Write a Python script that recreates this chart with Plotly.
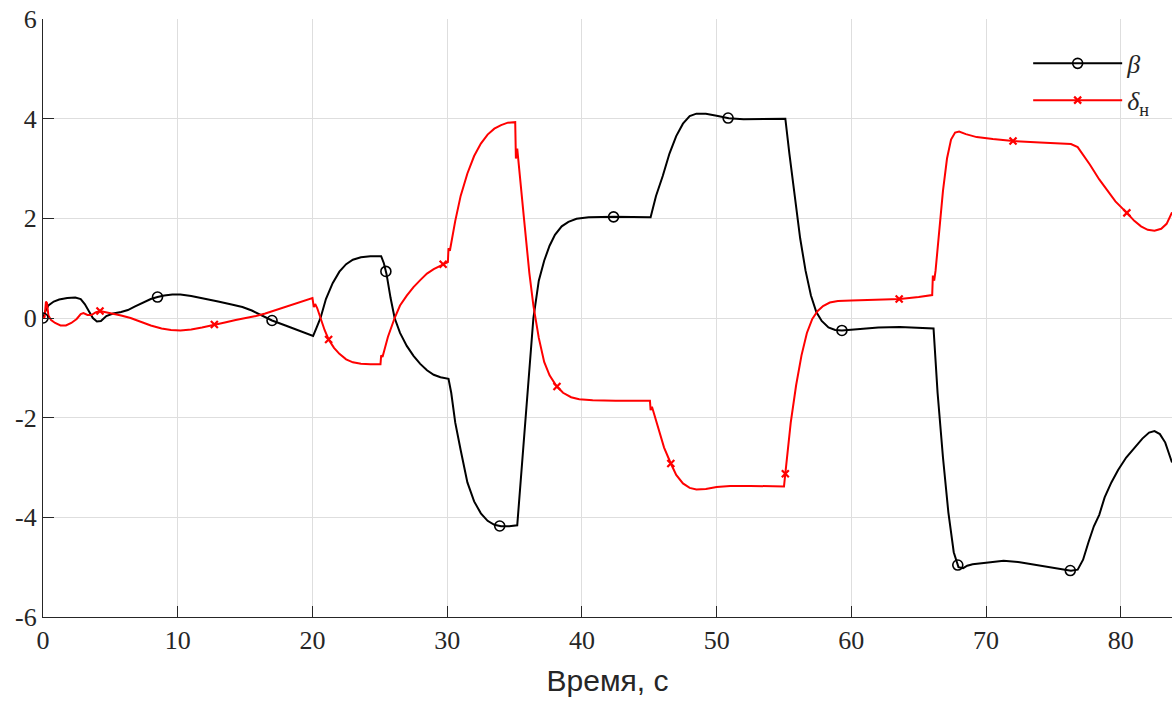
import numpy as np
import plotly.graph_objects as go

# beta (black) series: time, value
beta_t = [0.0, 0.2, 0.4, 0.8, 1.2, 1.8, 2.4, 2.8, 3.1, 3.4, 3.7, 4.0, 4.3, 4.7, 5.2, 5.8, 6.3, 6.8, 7.4, 8.0,
          8.5, 9.0, 9.6, 10.2, 11.0, 12.0, 13.0, 14.0, 14.8, 15.5, 16.2, 17.0, 18.0, 19.0, 20.05, 20.3, 20.6,
          21.0, 21.5, 22.0, 22.5, 23.0, 23.6, 24.3, 25.1, 25.3, 25.5, 25.8, 26.1, 26.5, 27.0, 27.5, 28.0, 28.5,
          29.0, 29.5, 30.1, 30.3, 30.6, 31.0, 31.5, 32.0, 32.5, 33.0, 33.5, 34.0, 34.6, 35.2, 35.6, 36.0, 36.4,
          36.8, 37.2, 37.6, 38.0, 38.5, 39.0, 39.6, 40.5, 42.4, 45.1, 45.5, 46.0, 46.5, 47.0, 47.5, 48.0, 48.5,
          49.2, 50.0, 50.9, 52.0, 53.5, 55.1, 55.4, 55.8, 56.2, 56.6, 57.0, 57.4, 57.8, 58.3, 58.8, 59.3, 60.5,
          62.0, 63.6, 65.0, 66.1, 66.4, 66.8, 67.2, 67.6, 67.95, 68.3, 68.6, 69.0, 70.0, 71.3, 72.5, 74.0, 75.2,
          76.3, 76.8, 77.2, 77.6, 78.0, 78.4, 78.8, 79.3, 79.8, 80.4, 81.0, 81.6, 82.1, 82.5, 82.9, 83.3, 83.8]
beta_v = [0.0, 0.15, 0.25, 0.33, 0.37, 0.40, 0.41, 0.38, 0.28, 0.13, 0.0, -0.07, -0.06, 0.04, 0.09, 0.12, 0.16,
          0.23, 0.31, 0.38, 0.42, 0.45, 0.47, 0.47, 0.44, 0.39, 0.33, 0.27, 0.22, 0.15, 0.05, -0.05, -0.15, -0.25,
          -0.36, -0.20, 0.0, 0.38, 0.70, 0.93, 1.08, 1.17, 1.22, 1.24, 1.24, 1.10, 0.88, 0.40, 0.0, -0.30, -0.56,
          -0.76, -0.92, -1.05, -1.14, -1.19, -1.22, -1.5, -2.1, -2.65, -3.3, -3.68, -3.92, -4.07, -4.15, -4.18,
          -4.18, -4.16, -2.8, -1.3, 0.0, 0.75, 1.15, 1.45, 1.67, 1.84, 1.93, 1.99, 2.02, 2.03, 2.02, 2.45, 2.85,
          3.3, 3.65, 3.9, 4.05, 4.1, 4.1, 4.06, 4.01, 3.99, 3.99, 4.0, 3.3, 2.4, 1.6, 0.95, 0.45, 0.12, -0.06,
          -0.19, -0.24, -0.25, -0.22, -0.19, -0.18, -0.19, -0.21, -1.5, -2.8, -3.9, -4.7, -5.0, -5.02, -4.97,
          -4.94, -4.91, -4.87, -4.9, -4.97, -5.02, -5.07, -5.05, -4.85, -4.5, -4.18, -3.95, -3.6, -3.3, -3.05,
          -2.8, -2.6, -2.42, -2.3, -2.27, -2.33, -2.5, -2.9]

# delta_n (red) series: time, value
delta_t = [0.0, 0.12, 0.22, 0.3, 0.4, 0.6, 0.9, 1.3, 1.7, 2.1, 2.5, 2.8, 3.0, 3.3, 3.6, 3.9, 4.23, 4.6, 5.2, 5.8,
           6.5, 7.2, 8.0, 8.8, 9.5, 10.2, 11.0, 11.8, 12.7, 13.5, 14.3, 15.1, 15.8, 16.5, 17.3, 18.2, 19.0, 19.9,
           20.0, 20.1, 20.2, 20.35, 20.6, 20.9, 21.2, 21.6, 22.0, 22.5, 23.0, 23.6, 24.3, 25.05, 25.1, 25.2, 25.3,
           25.6, 26.1, 26.5, 27.0, 27.5, 28.0, 28.5, 29.0, 29.7, 30.05, 30.1, 30.2, 30.3, 30.6, 31.0, 31.5, 32.0,
           32.5, 33.0, 33.5, 34.0, 34.5, 35.05, 35.1, 35.2, 35.3, 35.7, 36.1, 36.4, 36.8, 37.2, 37.6, 38.1, 38.6,
           39.2, 39.8, 40.8, 42.5, 45.05, 45.1, 45.2, 45.3, 45.7, 46.1, 46.6, 47.0, 47.5, 48.0, 48.5, 49.2, 50.0,
           51.0, 52.5, 54.0, 55.0, 55.05, 55.15, 55.25, 55.5, 55.9, 56.3, 56.7, 57.1, 57.5, 57.9, 58.4, 59.0,
           60.0, 61.5, 63.6, 65.0, 66.0, 66.05, 66.15, 66.25, 66.5, 66.8, 67.1, 67.4, 67.7, 68.0, 68.5, 69.3,
           70.5, 72.0, 74.0, 76.3, 76.8, 77.2, 77.7, 78.4, 79.0, 79.6, 80.45, 81.0, 81.5, 82.0, 82.5, 83.0, 83.4,
           83.8]
delta_v = [0.0, 0.02, 0.33, 0.30, 0.05, -0.04, -0.10, -0.15, -0.15, -0.1, -0.02, 0.08, 0.10, 0.06, 0.06, 0.11,
           0.14, 0.12, 0.08, 0.05, 0.0, -0.07, -0.15, -0.21, -0.24, -0.25, -0.23, -0.19, -0.13, -0.09, -0.04, 0.0,
           0.04, 0.09, 0.16, 0.24, 0.31, 0.39, 0.40, 0.22, 0.28, 0.2, 0.0, -0.24, -0.43, -0.6, -0.72, -0.83, -0.89,
           -0.92, -0.93, -0.93, -0.75, -0.78, -0.68, -0.38, 0.0, 0.25, 0.45, 0.62, 0.76, 0.89, 0.98, 1.08, 1.12,
           1.40, 1.35, 1.5, 1.95, 2.45, 2.9, 3.25, 3.5, 3.68, 3.8, 3.87, 3.92, 3.93, 3.2, 3.4, 3.1, 2.0, 0.9,
           0.25, -0.4, -0.88, -1.15, -1.36, -1.5, -1.59, -1.63, -1.65, -1.66, -1.66, -1.85, -1.78, -1.87, -2.25,
           -2.6, -2.92, -3.15, -3.32, -3.41, -3.44, -3.43, -3.39, -3.37, -3.37, -3.37, -3.38, -3.25, -3.0, -2.85,
           -2.1, -1.35, -0.75, -0.3, -0.02, 0.14, 0.24, 0.31, 0.34, 0.35, 0.36, 0.38, 0.42, 0.46, 0.85, 0.75,
           0.95, 1.7, 2.55, 3.2, 3.58, 3.72, 3.74, 3.69, 3.63, 3.59, 3.55, 3.52, 3.49, 3.43, 3.28, 3.08, 2.78,
           2.56, 2.34, 2.11, 1.95, 1.84, 1.77, 1.75, 1.79, 1.89, 2.12]

# marker times
beta_mark_t = [0.0, 8.5, 17.0, 25.45, 33.9, 42.35, 50.85, 59.3, 67.9, 76.25]
delta_mark_t = [4.23, 12.72, 21.2, 29.7, 38.15, 46.6, 55.1, 63.55, 72.0, 80.45]

y_ticks = [-6, -4, -2, 0, 2, 4, 6]
y_tick_labels = ["-6", "-4", "-2", "0", "2", "4", "6"]
x_ticks = [0, 10, 20, 30, 40, 50, 60, 70, 80]

beta_mark_v = np.interp(beta_mark_t, beta_t, beta_v)
delta_mark_v = np.interp(delta_mark_t, delta_t, delta_v)

BLACK = "#000000"
RED = "#ff0000"
SERIF = "Liberation Serif"
SANS = "Liberation Sans"
TXT = "#262626"

fig = go.Figure()
fig.add_trace(go.Scatter(x=beta_t, y=beta_v, mode="lines", line=dict(color=BLACK, width=2), showlegend=False))
fig.add_trace(go.Scatter(x=delta_t, y=delta_v, mode="lines", line=dict(color=RED, width=2), showlegend=False))
fig.add_trace(go.Scatter(x=beta_mark_t, y=beta_mark_v, mode="markers",
                         marker=dict(symbol="circle-open", size=10, color=BLACK, line=dict(width=1.6)),
                         showlegend=False))
fig.add_trace(go.Scatter(x=delta_mark_t, y=delta_mark_v, mode="markers",
                         marker=dict(symbol="x-thin-open", size=7, color=RED, line=dict(width=2.2, color=RED)),
                         showlegend=False))
# legend entries
fig.add_trace(go.Scatter(x=[None], y=[None], mode="lines+markers", name="<i>β</i>",
                         line=dict(color=BLACK, width=2),
                         marker=dict(symbol="circle-open", size=10, color=BLACK, line=dict(width=1.6))))
fig.add_trace(go.Scatter(x=[None], y=[None], mode="lines+markers", name="<i>δ</i><sub>н</sub>",
                         line=dict(color=RED, width=2),
                         marker=dict(symbol="x-thin-open", size=7, color=RED, line=dict(width=2.2, color=RED))))

fig.update_layout(
    width=1172, height=703,
    margin=dict(l=43, r=0, t=19, b=86),
    paper_bgcolor="white", plot_bgcolor="white",
    font=dict(family=SERIF, size=26, color=TXT),
    legend=dict(x=0.8726, y=0.965, xanchor="left", yanchor="top", bgcolor="rgba(255,255,255,0)",
                borderwidth=0, font=dict(family=SERIF, size=26, color=TXT), itemwidth=89,
                tracegroupgap=0),
)
fig.update_xaxes(range=[0, 83.8], tickvals=x_ticks, ticks="inside", ticklen=11, tickcolor=TXT,
                 showline=True, linecolor=TXT, linewidth=1.2, mirror=False,
                 showgrid=True, gridcolor="#dedede", gridwidth=1, zeroline=False,
                 tickfont=dict(family=SERIF, size=26, color=TXT),
                 title=dict(text="Время, с", font=dict(family=SANS, size=30, color=TXT), standoff=15))
fig.update_yaxes(range=[-6, 6], tickvals=y_ticks, ticktext=y_tick_labels, ticks="inside", ticklen=11,
                 tickcolor=TXT, showline=True, linecolor=TXT, linewidth=1.2,
                 showgrid=True, gridcolor="#dedede", gridwidth=1, zeroline=False,
                 tickfont=dict(family=SERIF, size=26, color=TXT))

fig.write_html("out.html")
